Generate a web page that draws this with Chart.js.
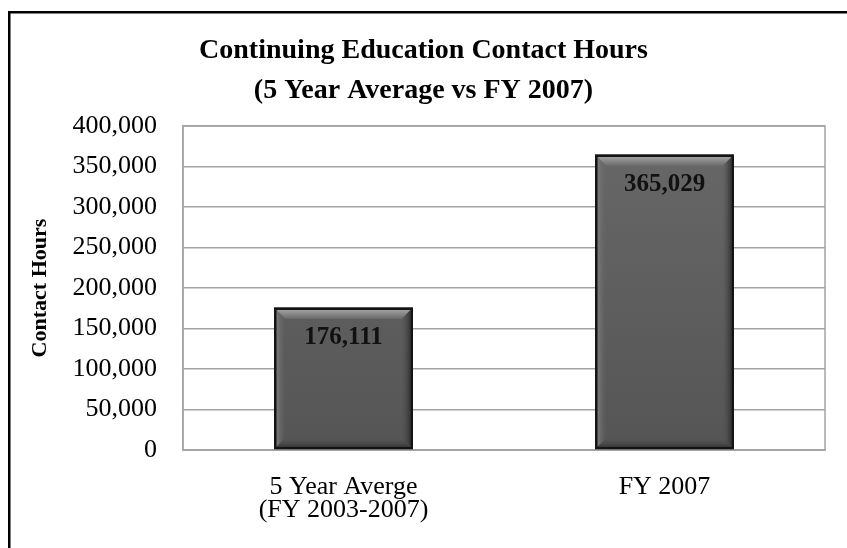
<!DOCTYPE html>
<html>
<head>
<meta charset="utf-8">
<script src="https://cdn.jsdelivr.net/npm/chart.js@4"></script>
<style>
  html, body { margin: 0; padding: 0; background: #ffffff; }
  canvas { display: block; }
</style>
</head>
<body>
<canvas id="chart" width="847" height="548"></canvas>
<script>
// Contact hours: five-year average vs. the FY 2007 total
const categories = [["5 Year Averge", "(FY 2003-2007)"], "FY 2007"];
const contactHours = [176111, 365029];
const yTickMax = 400000;
const yTickStep = 50000;
const titleLines = ["Continuing Education Contact Hours", "(5 Year Average vs FY 2007)"];
const yAxisTitle = "Contact Hours";

const SERIF = "'Liberation Serif', 'Times New Roman', serif";
const GRID = "#a3a3a3";

// Bar body: gentle vertical gradient, dark outline, soft drop shadow
function barFill(ctx) {
  const chart = ctx.chart;
  const area = chart.chartArea;
  if (!area) return "#606060";
  const g = chart.ctx.createLinearGradient(0, area.top, 0, area.bottom);
  g.addColorStop(0, "#686868");
  g.addColorStop(1, "#555555");
  return g;
}

const barShadow = {
  id: "barShadow",
  beforeDatasetDraw(chart) {
    const c = chart.ctx;
    c.save();
    c.shadowColor = "rgba(0,0,0,0.35)";
    c.shadowBlur = 7;
    c.shadowOffsetX = 3;
    c.shadowOffsetY = 3;
  },
  afterDatasetDraw(chart) {
    chart.ctx.restore();
  }
};

// Bevelled edges on each bar plus the value label near its top
const barBevel = {
  id: "barBevel",
  afterDatasetsDraw(chart) {
    const c = chart.ctx;
    const meta = chart.getDatasetMeta(0);
    meta.data.forEach((bar, i) => {
      const p = bar.getProps(["x", "y", "width", "base"], true);
      const b = 2.5;
      const L = p.x - p.width / 2 + b, R = p.x + p.width / 2 - b;
      const T = p.y + b, B = p.base - b;
      const d = 9;
      c.save();
      // top bevel
      let g = c.createLinearGradient(0, T, 0, T + d);
      g.addColorStop(0, "#a0a0a0");
      g.addColorStop(1, "#6a6a6a");
      c.fillStyle = g;
      c.beginPath();
      c.moveTo(L, T); c.lineTo(R, T); c.lineTo(R - d, T + d); c.lineTo(L + d, T + d); c.closePath();
      c.fill();
      // left bevel
      g = c.createLinearGradient(L, 0, L + d, 0);
      g.addColorStop(0, "#7a7a7a");
      g.addColorStop(1, "rgba(100,100,100,0)");
      c.fillStyle = g;
      c.beginPath();
      c.moveTo(L, T); c.lineTo(L + d, T + d); c.lineTo(L + d, B - d); c.lineTo(L, B); c.closePath();
      c.fill();
      // right bevel
      g = c.createLinearGradient(R, 0, R - d, 0);
      g.addColorStop(0, "#333333");
      g.addColorStop(1, "rgba(80,80,80,0)");
      c.fillStyle = g;
      c.beginPath();
      c.moveTo(R, T); c.lineTo(R - d, T + d); c.lineTo(R - d, B - d); c.lineTo(R, B); c.closePath();
      c.fill();
      // bottom bevel
      g = c.createLinearGradient(0, B, 0, B - d);
      g.addColorStop(0, "#3a3a3a");
      g.addColorStop(1, "rgba(80,80,80,0)");
      c.fillStyle = g;
      c.beginPath();
      c.moveTo(L, B); c.lineTo(R, B); c.lineTo(R - d, B - d); c.lineTo(L + d, B - d); c.closePath();
      c.fill();
      // outline again so it sits above the bevels
      c.strokeStyle = "#141414";
      c.lineWidth = 2.5;
      c.strokeRect(p.x - p.width / 2 + 1.25, p.y + 1.25, p.width - 2.5, p.base - p.y - 2.5);
      // value label
      c.fillStyle = "#111111";
      c.font = "bold 25px " + SERIF;
      c.textAlign = "center";
      c.textBaseline = "middle";
      c.fillText(contactHours[i].toLocaleString("en-US"), p.x, p.y + 30);
      c.restore();
    });
  }
};

// Plot frame and the outer chart border
const frame = {
  id: "frame",
  beforeDatasetsDraw(chart) {
    const a = chart.chartArea;
    const c = chart.ctx;
    c.save();
    c.strokeStyle = GRID;
    c.lineWidth = 1.5;
    c.strokeRect(a.left, a.top, a.right - a.left, a.bottom - a.top);
    c.restore();
  },
  afterDraw(chart) {
    const c = chart.ctx;
    c.save();
    c.fillStyle = "#000000";
    c.fillRect(8, 11, chart.width - 8, 2.5);
    c.fillRect(8, 11, 2.5, chart.height - 11);
    c.restore();
  }
};

new Chart(document.getElementById("chart"), {
  type: "bar",
  data: {
    labels: categories,
    datasets: [{
      data: contactHours,
      backgroundColor: barFill,
      borderColor: "#141414",
      borderWidth: 2.5,
      borderSkipped: false,
      categoryPercentage: 1.0,
      barPercentage: 0.433
    }]
  },
  options: {
    responsive: false,
    animation: false,
    devicePixelRatio: 1,
    layout: { padding: { top: 0, left: 22, right: 22, bottom: 0 } },
    plugins: {
      legend: { display: false },
      tooltip: { enabled: false },
      title: {
        display: true,
        text: titleLines,
        color: "#000000",
        font: { family: SERIF, size: 28, weight: "bold", lineHeight: 1.43 },
        padding: { top: 30.5, bottom: 15.5 }
      }
    },
    scales: {
      x: {
        grid: { display: false, drawTicks: false },
        border: { display: true, color: GRID, width: 1.5 },
        ticks: {
          color: "#000000",
          font: { family: SERIF, size: 26, lineHeight: 0.9 },
          padding: 25,
          maxRotation: 0,
          autoSkip: false
        },
        afterFit(scale) { scale.height = 98; }
      },
      y: {
        min: 0,
        max: yTickMax,
        grid: { color: GRID, lineWidth: 1.5, drawTicks: false },
        border: { display: true, color: GRID, width: 1.5 },
        ticks: {
          stepSize: yTickStep,
          color: "#000000",
          padding: 26,
          font: { family: SERIF, size: 26 },
          callback: (v) => Number(v).toLocaleString("en-US")
        },
        title: {
          display: true,
          text: yAxisTitle,
          color: "#000000",
          font: { family: SERIF, size: 22, weight: "bold", lineHeight: 1.2 },
          padding: { top: 4.8, bottom: 0 }
        },
        afterFit(scale) { scale.width = 161; }
      }
    }
  },
  plugins: [barShadow, barBevel, frame]
});
</script>
</body>
</html>
